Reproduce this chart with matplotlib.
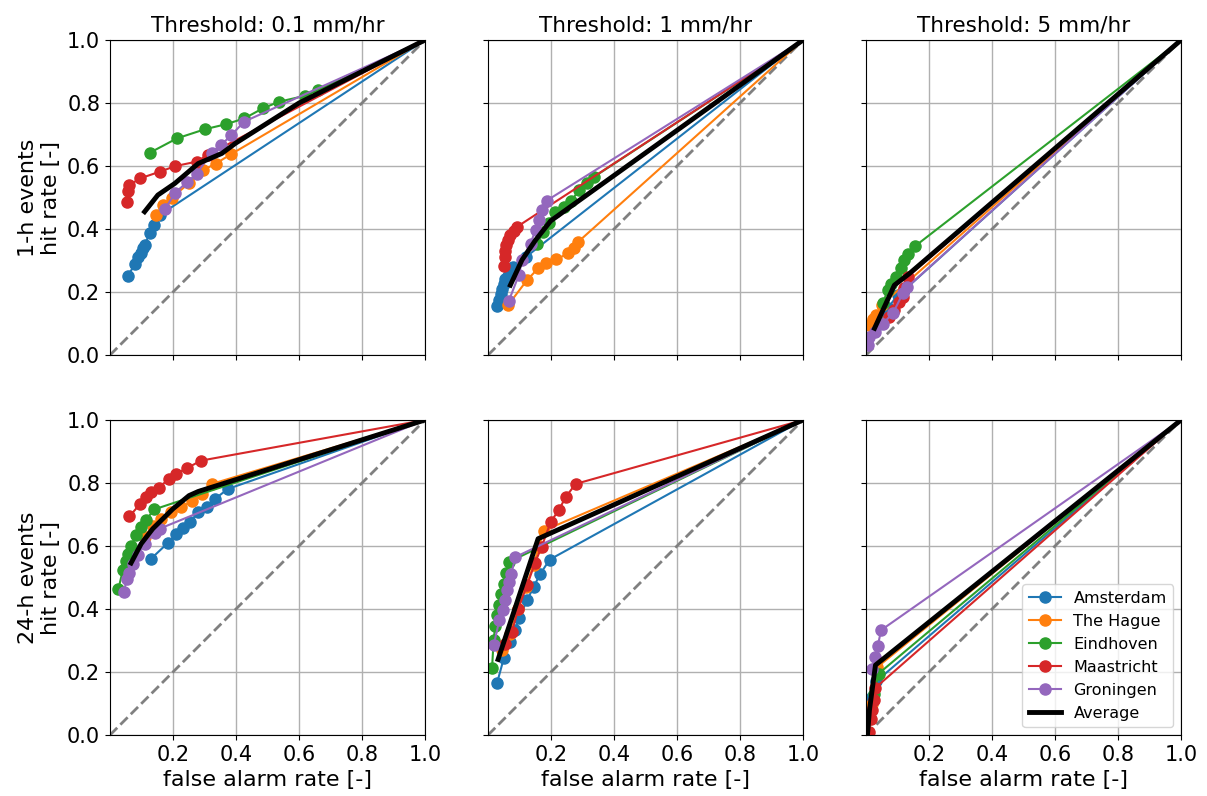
import numpy as np
import matplotlib.pyplot as plt

cities = ["Amsterdam", "The Hague", "Eindhoven", "Maastricht", "Groningen"]
colors = ["tab:blue", "tab:orange", "tab:green", "tab:red", "tab:purple"]
thresholds = ["0.1", "1", "5"]
durations = ["1-h", "24-h"]

# ROC points (false alarm rate, hit rate) per city; every curve closes at (1, 1)
roc_1h_01 = {
    "Amsterdam": ([0.056, 0.08, 0.09, 0.097, 0.104, 0.11, 0.126, 0.139, 0.16],
                  [0.252, 0.288, 0.312, 0.325, 0.339, 0.35, 0.386, 0.413, 0.446]),
    "The Hague": ([0.147, 0.168, 0.197, 0.25, 0.296, 0.336, 0.385],
                  [0.444, 0.476, 0.5, 0.545, 0.587, 0.608, 0.638]),
    "Eindhoven": ([0.126, 0.213, 0.302, 0.369, 0.426, 0.485, 0.536, 0.619, 0.661],
                  [0.642, 0.688, 0.717, 0.733, 0.751, 0.783, 0.804, 0.823, 0.841]),
    "Maastricht": ([0.054, 0.057, 0.062, 0.096, 0.158, 0.208, 0.275, 0.31],
                   [0.487, 0.522, 0.54, 0.561, 0.582, 0.6, 0.614, 0.635]),
    "Groningen": ([0.174, 0.208, 0.246, 0.275, 0.323, 0.353, 0.385, 0.426],
                  [0.463, 0.516, 0.55, 0.575, 0.643, 0.667, 0.698, 0.741]),
}
avg_1h_01 = ([0.11, 0.152, 0.206, 0.28, 0.355, 0.398, 0.6],
             [0.455, 0.508, 0.545, 0.608, 0.64, 0.672, 0.8])

roc_1h_1 = {
    "Amsterdam": ([0.03, 0.035, 0.04, 0.045, 0.05, 0.055, 0.062, 0.07, 0.078, 0.121],
                  [0.155, 0.175, 0.195, 0.21, 0.225, 0.24, 0.25, 0.265, 0.28, 0.312]),
    "The Hague": ([0.064, 0.124, 0.159, 0.183, 0.217, 0.255, 0.273, 0.287],
                  [0.159, 0.238, 0.275, 0.291, 0.304, 0.323, 0.339, 0.36]),
    "Eindhoven": ([0.156, 0.175, 0.193, 0.212, 0.24, 0.265, 0.289, 0.315, 0.337],
                  [0.354, 0.39, 0.418, 0.455, 0.47, 0.49, 0.524, 0.545, 0.566]),
    "Maastricht": ([0.05, 0.053, 0.055, 0.058, 0.063, 0.07, 0.081, 0.092],
                   [0.283, 0.31, 0.33, 0.35, 0.365, 0.38, 0.395, 0.407]),
    "Groningen": ([0.066, 0.098, 0.108, 0.135, 0.151, 0.161, 0.172, 0.186],
                  [0.172, 0.254, 0.302, 0.354, 0.397, 0.429, 0.46, 0.49]),
}
avg_1h_1 = ([0.071, 0.108, 0.151, 0.199], [0.222, 0.302, 0.365, 0.426])

roc_1h_5 = {
    "Amsterdam": ([0.04, 0.07, 0.1, 0.12], [0.1, 0.15, 0.19, 0.205]),
    "The Hague": ([0.011, 0.021, 0.032, 0.05], [0.095, 0.116, 0.127, 0.16]),
    "Eindhoven": ([0.053, 0.069, 0.08, 0.095, 0.111, 0.122, 0.133, 0.156],
                  [0.164, 0.206, 0.225, 0.249, 0.275, 0.302, 0.321, 0.346]),
    "Maastricht": ([0.074, 0.09, 0.106, 0.117, 0.122, 0.133],
                   [0.122, 0.143, 0.169, 0.185, 0.212, 0.249]),
    "Groningen": ([0.005, 0.011, 0.027, 0.053, 0.085, 0.117, 0.13],
                  [0.032, 0.058, 0.074, 0.1, 0.132, 0.196, 0.215]),
}
avg_1h_5 = ([0.027, 0.09, 0.138], [0.085, 0.222, 0.259])

roc_24h_01 = {
    "Amsterdam": ([0.131, 0.184, 0.211, 0.232, 0.254, 0.28, 0.307, 0.334, 0.374],
                  [0.56, 0.61, 0.637, 0.658, 0.676, 0.707, 0.723, 0.75, 0.781]),
    "The Hague": ([0.11, 0.136, 0.163, 0.195, 0.227, 0.259, 0.291, 0.323],
                  [0.63, 0.665, 0.686, 0.707, 0.723, 0.742, 0.766, 0.797]),
    "Eindhoven": ([0.027, 0.041, 0.051, 0.058, 0.067, 0.083, 0.097, 0.115, 0.14],
                  [0.465, 0.523, 0.552, 0.575, 0.599, 0.636, 0.66, 0.683, 0.716]),
    "Maastricht": ([0.062, 0.096, 0.115, 0.131, 0.155, 0.187, 0.211, 0.246, 0.289],
                   [0.694, 0.734, 0.755, 0.771, 0.785, 0.813, 0.829, 0.848, 0.871]),
    "Groningen": ([0.044, 0.054, 0.062, 0.072, 0.088, 0.11, 0.142, 0.158],
                  [0.454, 0.496, 0.515, 0.544, 0.573, 0.607, 0.641, 0.655]),
}
avg_24h_01 = ([0.067, 0.099, 0.136, 0.2, 0.251, 0.28],
              [0.546, 0.607, 0.655, 0.718, 0.76, 0.773])

roc_24h_1 = {
    "Amsterdam": ([0.029, 0.05, 0.071, 0.085, 0.1, 0.124, 0.145, 0.165, 0.196],
                  [0.166, 0.243, 0.296, 0.333, 0.373, 0.428, 0.47, 0.51, 0.557]),
    "The Hague": ([0.045, 0.07, 0.095, 0.12, 0.145, 0.161, 0.177],
                  [0.269, 0.32, 0.4, 0.47, 0.54, 0.597, 0.649]),
    "Eindhoven": ([0.013, 0.018, 0.023, 0.029, 0.036, 0.042, 0.05, 0.057, 0.066],
                  [0.214, 0.303, 0.345, 0.38, 0.412, 0.449, 0.478, 0.514, 0.549]),
    "Maastricht": ([0.055, 0.076, 0.096, 0.124, 0.149, 0.17, 0.199, 0.225, 0.248, 0.278],
                   [0.29, 0.327, 0.401, 0.475, 0.546, 0.597, 0.676, 0.715, 0.757, 0.797]),
    "Groningen": ([0.018, 0.036, 0.047, 0.055, 0.06, 0.066, 0.074, 0.087],
                  [0.285, 0.364, 0.396, 0.428, 0.459, 0.486, 0.512, 0.565]),
}
avg_24h_1 = ([0.032, 0.159], [0.24, 0.623])

roc_24h_5 = {
    "Amsterdam": ([0.01, 0.02, 0.032], [0.06, 0.12, 0.17]),
    "The Hague": ([0.005, 0.02, 0.035], [0.01, 0.1, 0.215]),
    "Eindhoven": ([0.01, 0.025, 0.04], [0.05, 0.13, 0.195]),
    "Maastricht": ([0.008, 0.015, 0.02, 0.025, 0.03],
                   [0.01, 0.05, 0.08, 0.11, 0.15]),
    "Groningen": ([0.019, 0.03, 0.037, 0.048], [0.211, 0.248, 0.282, 0.333]),
}
avg_24h_5 = ([0.005, 0.011, 0.03], [0.005, 0.08, 0.222])

roc_data = [[roc_1h_01, roc_1h_1, roc_1h_5],
            [roc_24h_01, roc_24h_1, roc_24h_5]]
avg_data = [[avg_1h_01, avg_1h_1, avg_1h_5],
            [avg_24h_01, avg_24h_1, avg_24h_5]]

plt.rcParams["font.size"] = 15
fig, axes = plt.subplots(2, 3, figsize=(12.07, 7.96), dpi=100,
                         sharex=True, sharey=True)
fig.subplots_adjust(left=0.0911, right=0.9785, top=0.9497, bottom=0.0766,
                    wspace=0.2, hspace=0.206)

for i in range(2):
    for j in range(3):
        ax = axes[i, j]
        ax.plot([0, 1], [0, 1], "--", color="gray", lw=2)
        for city, col in zip(cities, colors):
            far, hr = roc_data[i][j][city]
            n = len(far)
            ax.plot(np.r_[far, 1.0], np.r_[hr, 1.0], "-o", color=col,
                    lw=1.5, ms=8, markevery=list(range(n)), label=city)
        far, hr = avg_data[i][j]
        ax.plot(np.r_[far, 1.0], np.r_[hr, 1.0], color="black", lw=3.5,
                label="Average")
        ax.set_xlim(0, 1)
        ax.set_ylim(0, 1)
        ax.set_xticks([0.2, 0.4, 0.6, 0.8, 1.0])
        ax.set_yticks([0.0, 0.2, 0.4, 0.6, 0.8, 1.0])
        ax.tick_params(labelsize=15)
        ax.grid(True, color="#b0b0b0", lw=1)
        if i == 0:
            ax.set_title("Threshold: " + thresholds[j] + " mm/hr", fontsize=15.5)
        if i == 1:
            ax.set_xlabel("false alarm rate [-]", fontsize=16)
        if j == 0:
            ax.set_ylabel(durations[i] + " events\nhit rate [-]", fontsize=16)

axes[1, 2].legend(loc="lower right", fontsize=11.5)

plt.savefig("out.png")
